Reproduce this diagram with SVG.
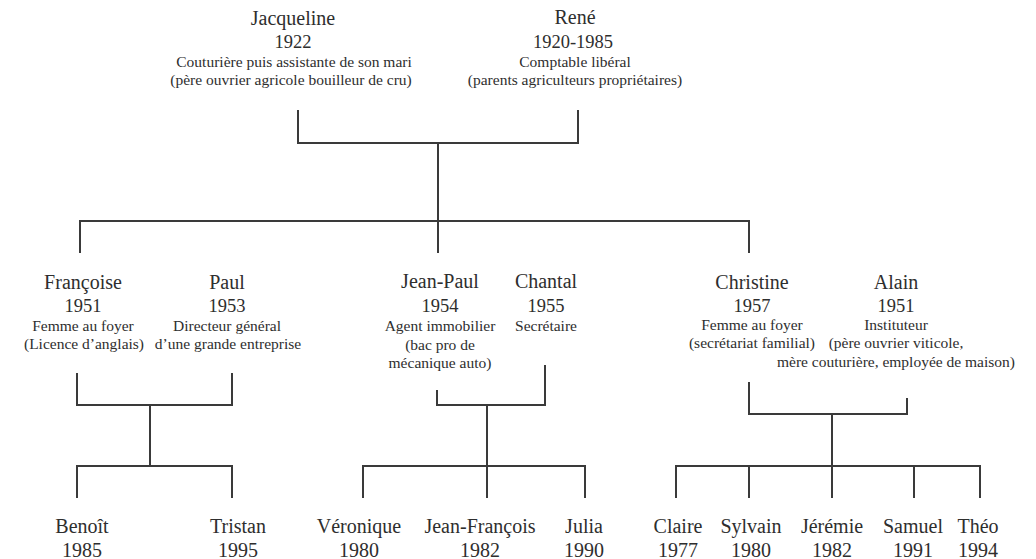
<svg xmlns="http://www.w3.org/2000/svg" width="1036" height="559" viewBox="0 0 1036 559">
<style>
text{font-family:"Liberation Serif","Times New Roman",serif;fill:#2e2e2e;text-anchor:middle}
.n{font-size:20px}
.y{font-size:18.5px}
.yb{font-size:20px}
.d{font-size:15.5px}
.c{fill:none;stroke:#3a3a3a;stroke-width:2}
</style>
<rect width="1036" height="559" fill="#ffffff"/>
<g id="connectors" class="c">
<path d="M298,110 V143 H578 V110"/>
<path d="M438,143 V253"/>
<path d="M80,253 V221 H749 V253"/>
<path d="M77,373 V405 H232 V373"/>
<path d="M150,405 V466"/>
<path d="M77,498 V466 H232 V498"/>
<path d="M437,390 V405 H545 V365"/>
<path d="M487,405 V498"/>
<path d="M363,498 V466 H585 V498"/>
<path d="M749,382 V414 H907 V398"/>
<path d="M832,414 V498"/>
<path d="M676,498 V466 H980 V498"/>
<path d="M749,466 V498 M914,466 V498"/>
</g>
<g id="jacqueline">
<text class="n" x="293" y="25">Jacqueline</text>
<text class="y" x="293" y="48">1922</text>
<text class="d" x="294" y="67">Couturière puis assistante de son mari</text>
<text class="d" x="291" y="85">(père ouvrier agricole bouilleur de cru)</text>
</g>
<g id="rene">
<text class="n" x="575" y="24">René</text>
<text class="y" x="573" y="48">1920-1985</text>
<text class="d" x="575" y="67">Comptable libéral</text>
<text class="d" x="575" y="85">(parents agriculteurs propriétaires)</text>
</g>
<g id="francoise">
<text class="n" x="83" y="289">Françoise</text>
<text class="y" x="83" y="312">1951</text>
<text class="d" x="83" y="331">Femme au foyer</text>
<text class="d" x="84" y="349">(Licence d’anglais)</text>
</g>
<g id="paul">
<text class="n" x="227" y="289">Paul</text>
<text class="y" x="227" y="312">1953</text>
<text class="d" x="227" y="331">Directeur général</text>
<text class="d" x="228" y="349">d’une grande entreprise</text>
</g>
<g id="jean-paul">
<text class="n" x="440" y="288">Jean-Paul</text>
<text class="y" x="440" y="312">1954</text>
<text class="d" x="440" y="331">Agent immobilier</text>
<text class="d" x="440" y="350">(bac pro de</text>
<text class="d" x="440" y="368">mécanique auto)</text>
</g>
<g id="chantal">
<text class="n" x="546" y="288">Chantal</text>
<text class="y" x="546" y="312">1955</text>
<text class="d" x="546" y="331">Secrétaire</text>
</g>
<g id="christine">
<text class="n" x="752" y="289">Christine</text>
<text class="y" x="752" y="312">1957</text>
<text class="d" x="752" y="330">Femme au foyer</text>
<text class="d" x="752" y="348">(secrétariat familial)</text>
</g>
<g id="alain">
<text class="n" x="896" y="289">Alain</text>
<text class="y" x="896" y="312">1951</text>
<text class="d" x="896" y="330">Instituteur</text>
<text class="d" x="896" y="348">(père ouvrier viticole,</text>
<text class="d" x="896" y="367">mère couturière, employée de maison)</text>
</g>
<g id="benoit"><text class="n" x="82" y="533">Benoît</text><text class="yb" x="82" y="557">1985</text></g>
<g id="tristan"><text class="n" x="238" y="533">Tristan</text><text class="yb" x="238" y="557">1995</text></g>
<g id="veronique"><text class="n" x="359" y="533">Véronique</text><text class="yb" x="359" y="557">1980</text></g>
<g id="jean-francois"><text class="n" x="480" y="533">Jean-François</text><text class="yb" x="480" y="557">1982</text></g>
<g id="julia"><text class="n" x="584" y="533">Julia</text><text class="yb" x="584" y="557">1990</text></g>
<g id="claire"><text class="n" x="678" y="533">Claire</text><text class="yb" x="678" y="557">1977</text></g>
<g id="sylvain"><text class="n" x="751" y="533">Sylvain</text><text class="yb" x="751" y="557">1980</text></g>
<g id="jeremie"><text class="n" x="832" y="533">Jérémie</text><text class="yb" x="832" y="557">1982</text></g>
<g id="samuel"><text class="n" x="913" y="533">Samuel</text><text class="yb" x="913" y="557">1991</text></g>
<g id="theo"><text class="n" x="978" y="533">Théo</text><text class="yb" x="978" y="557">1994</text></g>
</svg>
